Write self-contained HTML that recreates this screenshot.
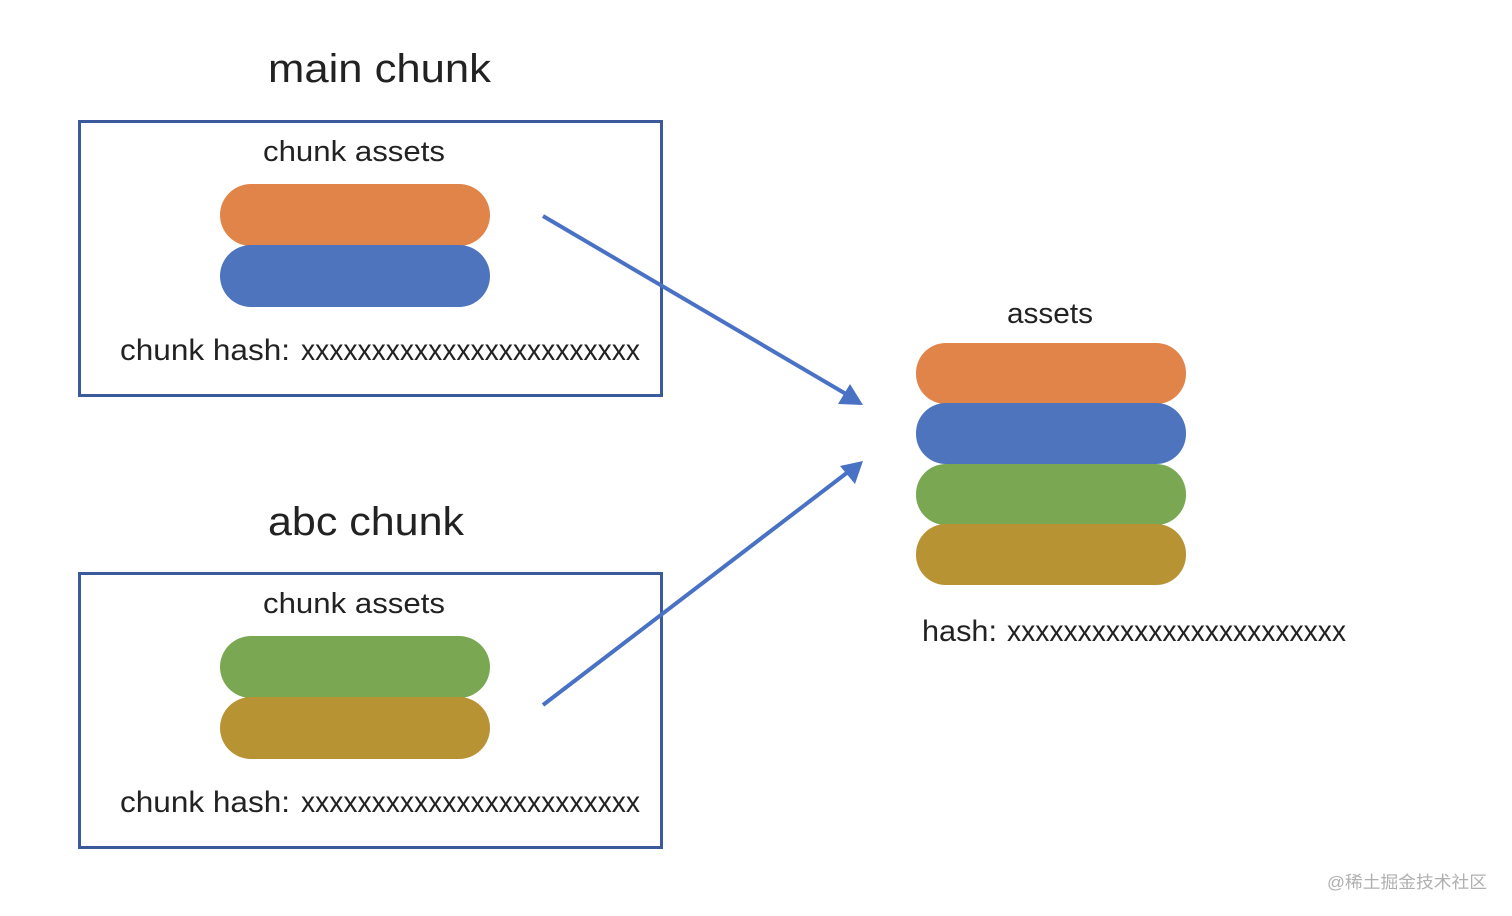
<!DOCTYPE html>
<html><head><meta charset="utf-8"><style>
html,body{margin:0;padding:0;background:#fff;}
svg{display:block}
text{font-family:"Liberation Sans","Noto Sans CJK SC",sans-serif;fill:#222}
</style></head><body>
<svg width="1512" height="916" viewBox="0 0 1512 916" xmlns="http://www.w3.org/2000/svg">
<rect x="79.5" y="121.5" width="582" height="274" fill="none" stroke="#3b5a9b" stroke-width="3"/>
<rect x="79.5" y="573.5" width="582" height="274" fill="none" stroke="#3b5a9b" stroke-width="3"/>

<text x="268" y="82" font-size="40" textLength="223" lengthAdjust="spacingAndGlyphs">main chunk</text>
<text x="268" y="535" font-size="40" textLength="196" lengthAdjust="spacingAndGlyphs">abc chunk</text>

<text x="263" y="161" font-size="29" textLength="182" lengthAdjust="spacingAndGlyphs">chunk assets</text>
<text x="263" y="613" font-size="29" textLength="182" lengthAdjust="spacingAndGlyphs">chunk assets</text>

<rect x="220" y="184" width="270" height="62" rx="31" fill="#e0844a"/>
<rect x="220" y="245" width="270" height="62" rx="31" fill="#4e74bd"/>
<rect x="220" y="636" width="270" height="62" rx="31" fill="#7aa852"/>
<rect x="220" y="697" width="270" height="62" rx="31" fill="#b89333"/>

<text x="120" y="360" font-size="30" textLength="170" lengthAdjust="spacingAndGlyphs">chunk hash:</text>
<text x="301" y="360" font-size="30" textLength="339" lengthAdjust="spacingAndGlyphs">xxxxxxxxxxxxxxxxxxxxxxxx</text>
<text x="120" y="812" font-size="30" textLength="170" lengthAdjust="spacingAndGlyphs">chunk hash:</text>
<text x="301" y="812" font-size="30" textLength="339" lengthAdjust="spacingAndGlyphs">xxxxxxxxxxxxxxxxxxxxxxxx</text>

<text x="1007" y="323" font-size="29" textLength="86" lengthAdjust="spacingAndGlyphs">assets</text>
<rect x="916" y="343" width="270" height="61" rx="30" fill="#e0844a"/>
<rect x="916" y="403" width="270" height="61" rx="30" fill="#4e74bd"/>
<rect x="916" y="464" width="270" height="61" rx="30" fill="#7aa852"/>
<rect x="916" y="524" width="270" height="61" rx="30" fill="#b89333"/>
<text x="922" y="641" font-size="30" textLength="75" lengthAdjust="spacingAndGlyphs">hash:</text>
<text x="1007" y="641" font-size="30" textLength="339" lengthAdjust="spacingAndGlyphs">xxxxxxxxxxxxxxxxxxxxxxxx</text>

<line x1="543" y1="216" x2="846" y2="394" stroke="#4a72c4" stroke-width="4"/>
<polygon points="863,405 838,404 850,384" fill="#4a72c4"/>
<line x1="543" y1="705" x2="848" y2="472" stroke="#4a72c4" stroke-width="4"/>
<polygon points="863,461 840,466 855,484" fill="#4a72c4"/>

<text x="1327" y="888" font-size="17" style="fill:#b0b0b0" textLength="160" lengthAdjust="spacingAndGlyphs">@稀土掘金技术社区</text>
</svg>
</body></html>
